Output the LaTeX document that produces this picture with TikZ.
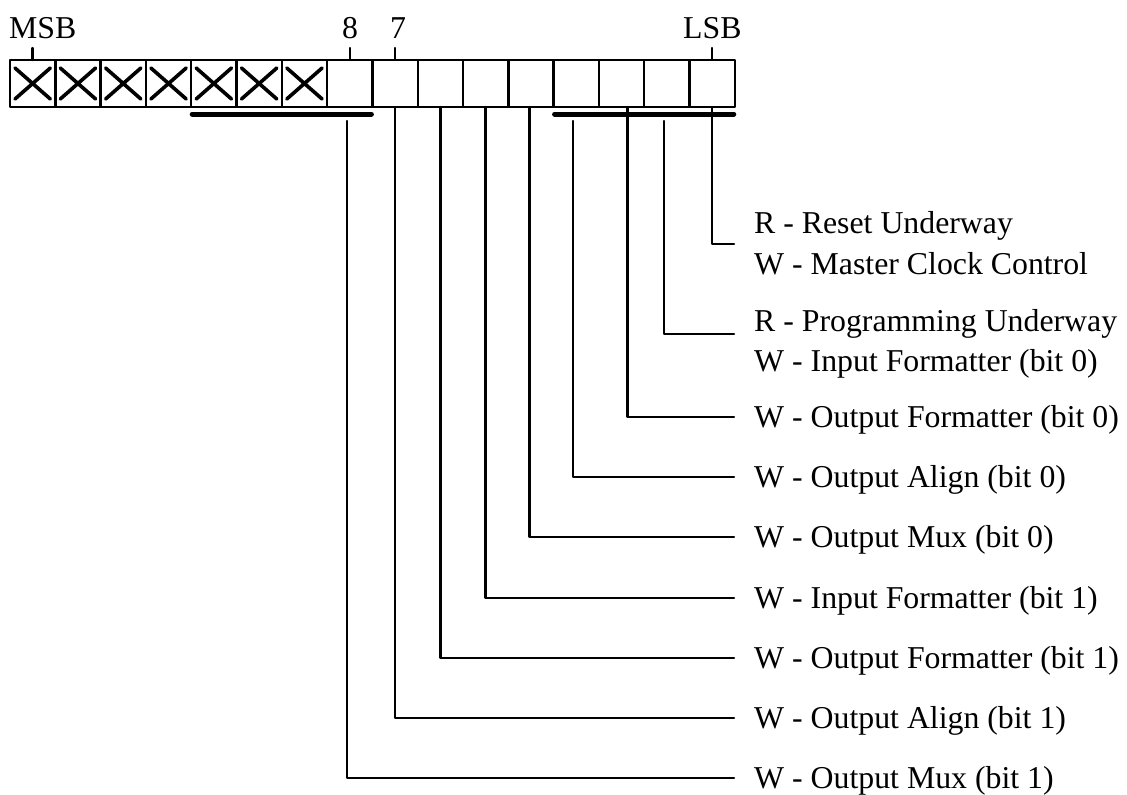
\documentclass[tikz,border=0pt]{standalone}
\usepackage{fontspec}
\setmainfont{Liberation Serif}
\usetikzlibrary{positioning}

\begin{document}
\begin{tikzpicture}[line cap=round,line join=round,x=1pt,y=-1pt,line width=2.4pt,
  font=\fontsize{31.8}{38}\selectfont,
  bitbox/.style={draw,line cap=butt,minimum width=45.3pt,minimum height=47pt,inner sep=0pt,outer sep=0pt,anchor=north west},
  txt/.style={inner sep=0pt,anchor=base west},
  grp/.style={line width=5pt}]
\useasboundingbox (0,0) rectangle (1127,795);
% register, MSB on the left
\foreach \i in {0,...,15}
  \node[bitbox] (c\i) at (10+45.3*\i,60) {};
% unused bits
\foreach \i in {0,...,6}
  \draw[line width=3.6pt] ([shift={(5,8)}]c\i.north west) -- ([shift={(-5,-8)}]c\i.south east)
        ([shift={(5,-8)}]c\i.south west) -- ([shift={(-5,8)}]c\i.north east);
% ticks and top labels
\draw (c0.north) -- ++(0,-12);
\draw (c7.north) -- ++(0,-12);
\draw (c8.north) -- ++(0,-12);
\draw (c15.north) -- ++(0,-12);
\node[txt] (msb) at (8,38) {MSB};
\node[inner sep=0pt,anchor=base] (b8) at (350,38) {8};
\node[inner sep=0pt,anchor=base] (b7) at (398,38) {7};
\node[txt] (lsb) at (682,38) {LSB};
% group bars
\draw[grp] ([shift={(1,7)}]c4.south west) -- ([shift={(-1,7)}]c7.south east);
\draw[grp] ([shift={(1,7)}]c12.south west) -- ([shift={(-1,7)}]c15.south east);
% ends of the leader lines
\coordinate (rst) at (734,244);
\coordinate (prg) at (734,334);
\coordinate (ofm0) at (734,417);
\coordinate (oal0) at (734,477);
\coordinate (omx0) at (734,537);
\coordinate (ifm1) at (734,598);
\coordinate (ofm1) at (734,658);
\coordinate (oal1) at (734,718);
\coordinate (omx1) at (734,778);
\coordinate (g0) at (573,121);
\coordinate (g1) at (664,121);
\coordinate (g2) at (347,121);
% leader lines
\draw (c15.south) |- (rst);
\draw (g1) |- (prg);
\draw ([xshift=6]c13.south) |- (ofm0);
\draw (g0) |- (oal0);
\draw ([xshift=-1.5]c11.south) |- (omx0);
\draw (c10.south) |- (ifm1);
\draw (c9.south) |- (ofm1);
\draw (c8.south) |- (oal1);
\draw (g2) |- (omx1);
% labels
\node[txt] (trst) at (753,233) {R - Reset Underway};
\node[txt] (tmcc) at (753,274) {W - Master Clock Control};
\node[txt] (tprg) at (753,331) {R - Programming Underway};
\node[txt] (tifm0) at (753,371) {W - Input Formatter (bit 0)};
\node[txt] (tofm0) at (753,427) {W - Output Formatter (bit 0)};
\node[txt] (toal0) at (753,487) {W - Output Align (bit 0)};
\node[txt] (tomx0) at (753,547) {W - Output Mux (bit 0)};
\node[txt] (tifm1) at (753,608) {W - Input Formatter (bit 1)};
\node[txt] (tofm1) at (753,668) {W - Output Formatter (bit 1)};
\node[txt] (toal1) at (753,728) {W - Output Align (bit 1)};
\node[txt] (tomx1) at (753,788) {W - Output Mux (bit 1)};
\end{tikzpicture}
\end{document}
